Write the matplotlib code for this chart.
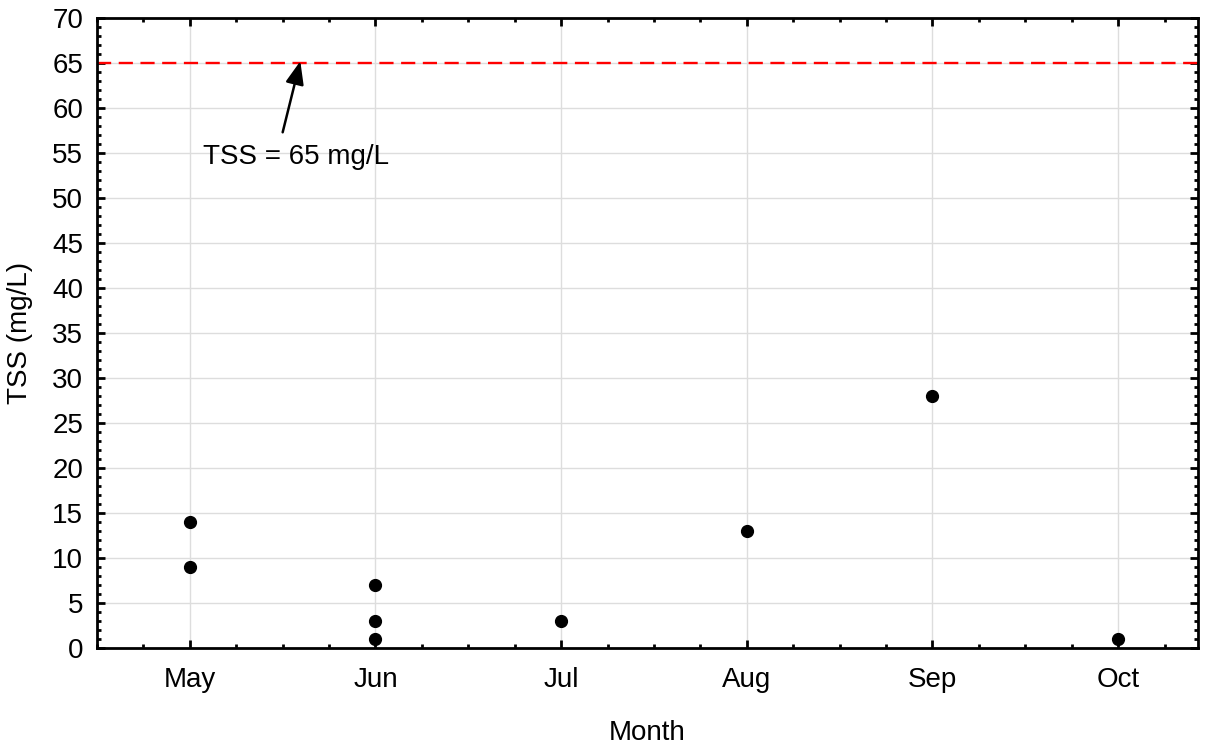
import numpy as np
import matplotlib.pyplot as plt
from matplotlib.ticker import MultipleLocator

plt.rcParams['font.family'] = ['Liberation Sans', 'DejaVu Sans']

months = ["May", "Jun", "Jul", "Aug", "Sep", "Oct"]
month_idx = [0, 0, 1, 1, 1, 2, 3, 4, 5]
tss = [14, 9, 7, 3, 1, 3, 13, 28, 1]
limit = 65

fig = plt.figure(figsize=(12.14, 7.47), dpi=100)
ax = fig.add_axes([97 / 1214, 1 - 648 / 747, (1198 - 97) / 1214, (648 - 18) / 747])

ax.grid(True, color="#dddddd", linewidth=1, zorder=0)
ax.axhline(limit, color="red", linewidth=1.7, dashes=(6, 3.2), zorder=2)
ax.plot(month_idx, tss, "o", color="black", markersize=8.5, zorder=3)

# annotation: text and arrow drawn separately
ax.text(0.57, 54.6, "TSS = 65 mg/L", ha="center", va="center", fontsize=20)
ax.annotate("", xy=(0.595, 65.2), xytext=(0.50, 57.3),
            arrowprops=dict(arrowstyle="-|>,head_length=0.5,head_width=0.2",
                            color="black", lw=1.8,
                            mutation_scale=28, shrinkA=0, shrinkB=0))

ax.set_xlim(-0.5, 5.43)
ax.set_ylim(0, 70)
ax.set_xticks(range(len(months)))
ax.set_xticklabels(months)
ax.xaxis.set_minor_locator(MultipleLocator(0.25))
ax.yaxis.set_major_locator(MultipleLocator(5))
ax.yaxis.set_minor_locator(MultipleLocator(1))

ax.tick_params(which="both", direction="in", top=True, right=True, width=2)
ax.tick_params(which="major", length=6, labelsize=20)
ax.tick_params(which="minor", length=3)
ax.tick_params(axis="x", which="major", pad=14)
ax.tick_params(axis="y", which="major", pad=10)
for s in ax.spines.values():
    s.set_linewidth(2)

ax.set_xlabel("Month", fontsize=20, labelpad=19)
ax.set_ylabel("TSS (mg/L)", fontsize=20, labelpad=14)

fig.savefig("out.png", dpi=100)
